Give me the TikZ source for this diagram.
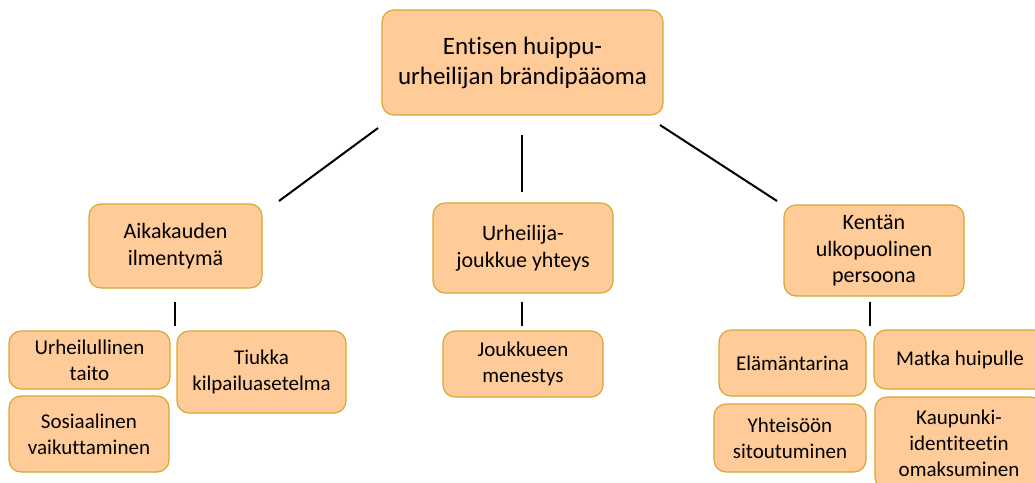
\documentclass[tikz,border=0pt]{standalone}
\usepackage{fontspec}
\setmainfont{Carlito}[Ligatures=NoCommon]
\definecolor{boxfill}{HTML}{FFCB98}
\definecolor{boxline}{HTML}{D8A733}
\begin{document}
\begin{tikzpicture}[x=1pt,y=-1pt,
  box/.style={draw=boxline,fill=boxfill,line width=1.2pt,rounded corners=12pt,align=center,inner sep=0pt},
  lvlone/.style={box,font=\fontsize{25}{30}\selectfont},
  lvltwo/.style={box,font=\fontsize{22}{26.5}\selectfont},
  lvlthree/.style={box,font=\fontsize{21}{26}\selectfont},
  conn/.style={line width=2pt,black}]
\useasboundingbox (0,0) rectangle (1035,482);
% top
\node[lvlone,minimum width=281pt,minimum height=105pt] (top) at (522.5,62.5) {Entisen huippu-\\urheilijan brändipääoma};
% second level
\node[lvltwo,minimum width=173pt,minimum height=84pt] (aika) at (175.5,246) {Aikakauden\\ilmentymä};
\node[lvltwo,minimum width=180pt,minimum height=90pt] (urh) at (523,248) {Urheilija-\\joukkue yhteys};
\node[lvltwo,minimum width=180pt,minimum height=91pt] (kent) at (874,250.5) {Kentän\\ulkopuolinen\\persoona};
% third level
\node[lvlthree,minimum width=161pt,minimum height=58pt] (taito) at (89.5,360) {Urheilullinen\\taito};
\node[lvlthree,minimum width=160pt,minimum height=76pt] (sos) at (89,434) {Sosiaalinen\\vaikuttaminen};
\node[lvlthree,minimum width=169pt,minimum height=82pt] (tiuk) at (261.5,372) {Tiukka\\kilpailuasetelma};
\node[lvlthree,minimum width=160pt,minimum height=66pt] (jouk) at (523,364) {Joukkueen\\menestys};
\node[lvlthree,minimum width=147pt,minimum height=66pt] (elam) at (792.5,363) {Elämäntarina};
\node[lvlthree,minimum width=152pt,minimum height=68pt] (yht) at (790,438) {Yhteisöön\\sitoutuminen};
\node[lvlthree,minimum width=172pt,minimum height=59pt] (matka) at (960,359.5) {Matka huipulle};
\node[lvlthree,minimum width=168pt,minimum height=92pt] (kaup) at (959,443) {Kaupunki-\\identiteetin\\omaksuminen};
% connectors (floating segments between levels)
\coordinate (t1) at (378,128); \coordinate (a1) at (279,201);
\coordinate (t2) at (522,135); \coordinate (u1) at (522,192);
\coordinate (t3) at (660,125); \coordinate (k1) at (777,201);
\coordinate (a2) at (175,302); \coordinate (a3) at (175,326);
\coordinate (u2) at (522,302); \coordinate (u3) at (522,326);
\coordinate (k2) at (870,302); \coordinate (k3) at (870,326);
\draw[conn] (t1) -- (a1);
\draw[conn] (t2) -- (u1);
\draw[conn] (t3) -- (k1);
\draw[conn] (a2) -- (a3);
\draw[conn] (u2) -- (u3);
\draw[conn] (k2) -- (k3);
\end{tikzpicture}
\end{document}
